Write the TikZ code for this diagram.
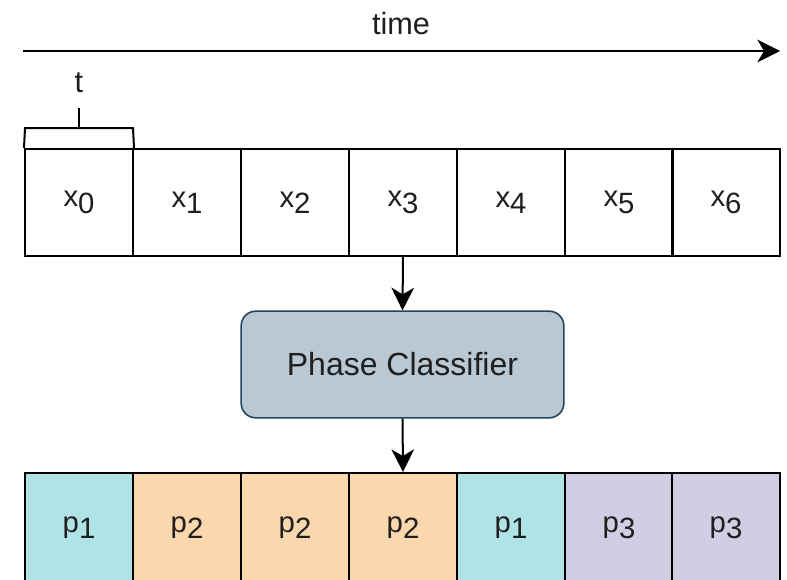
\documentclass[tikz,border=0pt]{standalone}
\usepackage{fontspec}
\setmainfont{Liberation Sans}
\usetikzlibrary{arrows.meta}
\definecolor{tealc}{HTML}{B0E3E6}
\definecolor{orangec}{HTML}{FAD7AC}
\definecolor{purplec}{HTML}{D0CEE2}
\definecolor{clsfill}{HTML}{BAC8D3}
\definecolor{clsdraw}{HTML}{23445D}
\definecolor{txt}{HTML}{1F1F1F}
\newcommand\slab[2]{#1\raisebox{-0.22em}{#2}}
\tikzset{
  cell/.style={draw=black, line width=1.5pt, minimum width=81pt, minimum height=80.25pt, inner sep=0pt, text=txt, font=\fontsize{22}{26}\selectfont},
  bcell/.style={cell, minimum height=84pt},
  classbox/.style={draw=clsdraw, fill=clsfill, line width=1.2pt, rounded corners=11pt, minimum width=242pt, minimum height=80pt, inner sep=0pt, text=txt, font=\fontsize{24}{28}\selectfont},
  conn/.style={line width=1.5pt, -{Stealth[length=17pt, width=17pt, inset=5pt]}},
  lbl/.style={font=\fontsize{23}{27}\selectfont, inner sep=0pt, text=txt}
}
\begin{document}
\begin{tikzpicture}[x=0.75pt, y=-0.75pt]
\useasboundingbox (0,0) rectangle (787,579);
% time arrow
\coordinate (ts) at (23,51);
\coordinate (te) at (780,51);
\draw[conn] (ts) -- (te);
\node[lbl] (time) at (401,24) {time};
% top row
\foreach \i/\xc in {0/79,1/187,2/295,3/403,4/511,5/619,6/726}{
  \node[cell] (x\i) at (\xc,202.5) {\slab{x}{\i}};
}
% bracket
\coordinate (bl) at (25,128);
\coordinate (br) at (133,128);
\coordinate (bm) at (79,128);
\coordinate (bt) at (79,108);
\draw[line width=1.5pt, line join=miter] (x0.north west) -- (bl) -- (br) -- (x0.north east);
\draw[line width=1.5pt] (bm) -- (bt);
\node[lbl] (t) at (79,83) {t};
% classifier
\node[classbox] (cls) at (402.5,364.5) {Phase Classifier};
\draw[conn] (x3.south) -- (cls.north);
% bottom row
\foreach \i/\xc/\c/\p in {0/79/tealc/1,1/187/orangec/2,2/295/orangec/2,3/403/orangec/2,4/511/tealc/1,5/619/purplec/3,6/726/purplec/3}{
  \node[bcell, fill=\c, anchor=north] (p\i) at (\xc,472) {\raisebox{7pt}{\slab{p}{\p}}};
}
\draw[conn] (cls.south) -- (p3.north);
\end{tikzpicture}
\end{document}
